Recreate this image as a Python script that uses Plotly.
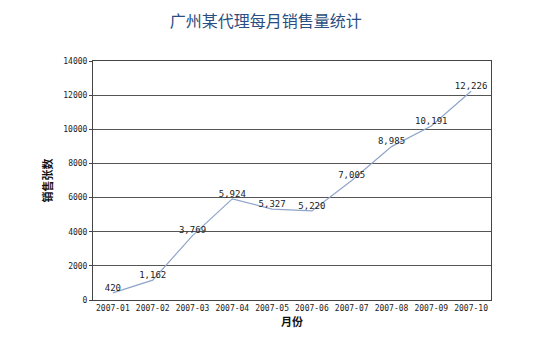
import plotly.graph_objects as go

months = ["2007-01", "2007-02", "2007-03", "2007-04", "2007-05",
          "2007-06", "2007-07", "2007-08", "2007-09", "2007-10"]
sales = [420, 1162, 3769, 5924, 5327, 5220, 7005, 8985, 10191, 12226]
y_ticks = [0, 2000, 4000, 6000, 8000, 10000, 12000, 14000]

labels = [f"{v:,}" for v in sales]

fig = go.Figure()
fig.add_trace(go.Scatter(
    x=months, y=sales, mode="lines+text",
    line=dict(color="#8FA5C9", width=1.2),
    text=labels, textposition="top center",
    textfont=dict(family="DejaVu Sans Mono, monospace", size=9, color="#222"),
    cliponaxis=False, hoverinfo="x+y",
))

# page body has an 8px default margin; figure sized to fit the 553x362 window
fig.update_layout(
    width=545, height=354,
    margin=dict(l=85, r=62, t=53, b=62),
    paper_bgcolor="white", plot_bgcolor="white",
    showlegend=False,
    title=dict(text="广州某代理每月销售量统计", x=0.473, xanchor="center",
               y=0.962, yanchor="middle",
               font=dict(family="Noto Sans CJK SC", size=16, color="#2A4E80")),
    font=dict(family="DejaVu Sans Mono, monospace", size=9, color="#222"),
)
fig.update_xaxes(
    type="category", range=[-0.5, 9.5],
    showline=True, linecolor="#444", linewidth=1, mirror=True,
    showgrid=False, ticks="", tickangle=0,
    tickfont=dict(family="DejaVu Sans Mono, monospace", size=8),
    title=dict(text="<b>月份</b>", standoff=2,
               font=dict(family="Noto Sans CJK SC", size=11, color="#111")),
)
fig.update_yaxes(
    range=[0, 14000], tickvals=y_ticks, ticktext=[str(t) for t in y_ticks],
    showline=True, linecolor="#444", linewidth=1, mirror=True,
    showgrid=True, gridcolor="#555", gridwidth=1,
    ticks="outside", ticklen=3, tickcolor="#444",
    tickfont=dict(family="DejaVu Sans Mono, monospace", size=8),
    zeroline=False,
    title=dict(text="<b>销售张数</b>", standoff=8,
               font=dict(family="Noto Sans CJK SC", size=11, color="#111")),
)

fig.write_html("out.html")
